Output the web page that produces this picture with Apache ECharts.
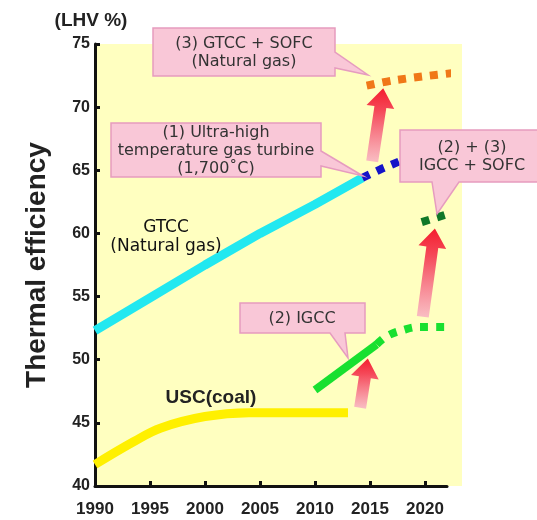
<!DOCTYPE html>
<html>
<head>
<meta charset="utf-8">
<script src="https://cdn.jsdelivr.net/npm/echarts@6/dist/echarts.min.js"></script>
<style>
  html, body { margin: 0; padding: 0; background: #fff; }
  #chart { width: 537px; height: 520px; }
</style>
</head>
<body>
<div id="chart"></div>
<script>
// axis ticks
const xTicks = [1990, 1995, 2000, 2005, 2010, 2015, 2020];
const yTicks = [40, 45, 50, 55, 60, 65, 70, 75];

// GTCC (natural gas), solid cyan
const gtccYears = [1990, 1995, 2000, 2005, 2010, 2014.3];
const gtccEff = [52.3, 54.9, 57.5, 60.0, 62.3, 64.4];
// (1) ultra-high temperature gas turbine, blue dots
const uhgtYears = [2014.3, 2016, 2018.5];
const uhgtEff = [64.4, 65.1, 66.0];
// (3) GTCC + SOFC, orange dots
const gtSofcYears = [2014.7, 2017, 2020, 2022.6];
const gtSofcEff = [71.7, 72.1, 72.45, 72.7];
// (2) IGCC, solid green then dots
const igccYears = [2010, 2015.6];
const igccEff = [47.6, 51.2];
const igccFutYears = [2015.6, 2016.5, 2018, 2019.5, 2022.6];
const igccFutEff = [51.2, 51.85, 52.35, 52.6, 52.6];
// (2) + (3) IGCC + SOFC, dark green dots
const igSofcYears = [2019.7, 2022.7];
const igSofcEff = [60.9, 61.7];
// USC (coal), yellow
const uscYears = [1990, 1993.5, 1996, 2000, 2004, 2013];
const uscEff = [41.7, 43.5, 44.6, 45.5, 45.8, 45.8];

// arrows: from -> to (data coords)
const arrowFrom = [[2015.2, 65.7], [2019.8, 53.4], [2014.1, 46.2]];
const arrowTo = [[2016.2, 71.5], [2020.9, 60.4], [2014.8, 50.1]];

const pairs = (xs, ys) => xs.map((x, i) => [x, ys[i]]);

const bg = '#FFFFC0';
const ink = '#222';

const chart = echarts.init(document.getElementById('chart'));

function lineSeries(xs, ys, color, width, dotted, smooth) {
  return {
    type: 'line',
    data: pairs(xs, ys),
    symbol: 'none',
    smooth: smooth || false,
    clip: false,
    silent: true,
    lineStyle: {
      color: color,
      width: width,
      type: dotted ? [8, 8] : 'solid',
      cap: 'butt'
    }
  };
}

chart.setOption({
  animation: false,
  grid: {
    left: 95, top: 44, width: 352, height: 442,
    show: true, backgroundColor: bg, borderWidth: 0
  },
  xAxis: {
    type: 'value',
    min: 1990, max: 2022, interval: 5,
    axisLine: { lineStyle: { color: '#111', width: 3 } },
    axisTick: { inside: true, length: 5, lineStyle: { color: '#111', width: 3 }, customValues: xTicks },
    axisLabel: {
      customValues: xTicks, margin: 15,
      formatter: v => String(v),
      color: ink, fontFamily: 'Liberation Sans', fontWeight: 'bold', fontSize: 17
    },
    splitLine: { show: false }
  },
  yAxis: {
    type: 'value',
    min: yTicks[0], max: yTicks[yTicks.length - 1], interval: 5,
    name: 'Thermal efficiency',
    nameLocation: 'middle',
    nameGap: 44,
    nameTextStyle: { color: ink, fontFamily: 'Liberation Sans', fontWeight: 'bold', fontSize: 28 },
    axisLine: { lineStyle: { color: '#111', width: 3 } },
    axisTick: { inside: true, length: 5, lineStyle: { color: '#111', width: 3 } },
    axisLabel: {
      margin: 5,
      color: ink, fontFamily: 'Liberation Sans', fontWeight: 'bold', fontSize: 16
    },
    splitLine: { show: false }
  },
  series: [
    lineSeries(uscYears, uscEff, '#FFF000', 9, false, 0.4),
    lineSeries(gtccYears, gtccEff, '#22E8F0', 9, false, false),
    lineSeries(uhgtYears, uhgtEff, '#1414C8', 8, true, false),
    lineSeries(gtSofcYears, gtSofcEff, '#F07818', 8, true, 0.3),
    lineSeries(igccYears, igccEff, '#18E030', 8, false, false),
    lineSeries(igccFutYears, igccFutEff, '#18E030', 8, true, 0.4),
    lineSeries(igSofcYears, igSofcEff, '#107828', 8, true, false)
  ]
});

// ---- annotations ----
function arrowPoints(b, t) {
  const dx = t[0] - b[0], dy = t[1] - b[1];
  const len = Math.sqrt(dx * dx + dy * dy);
  const ux = dx / len, uy = dy / len;
  const nx = -uy, ny = ux;
  const L = 19, sw = 6, hw = 14;
  const nk = [t[0] - ux * L, t[1] - uy * L];
  return [
    [b[0] + nx * sw, b[1] + ny * sw],
    [nk[0] + nx * sw, nk[1] + ny * sw],
    [nk[0] + nx * hw, nk[1] + ny * hw],
    t,
    [nk[0] - nx * hw, nk[1] - ny * hw],
    [nk[0] - nx * sw, nk[1] - ny * sw],
    [b[0] - nx * sw, b[1] - ny * sw]
  ];
}

// callout shape: rect [x0,y0,x1,y1], tail on 'right' or 'bottom'
function calloutPoints(r, side, a, b, tip) {
  const [x0, y0, x1, y1] = r;
  if (side === 'right') {
    return [[x0, y0], [x1, y0], [x1, a], tip, [x1, b], [x1, y1], [x0, y1]];
  }
  return [[x0, y0], [x1, y0], [x1, y1], [b, y1], tip, [a, y1], [x0, y1]];
}

const callouts = [
  { rect: [153, 28, 335, 76], side: 'right', a: 52, b: 68, tip: [368, 75],
    text: '(3) GTCC + SOFC\n(Natural gas)', cx: 244, cy: 53 },
  { rect: [111, 123, 321, 177], side: 'right', a: 151, b: 166, tip: [363, 176],
    text: '(1) Ultra-high\ntemperature gas turbine\n(1,700\u02daC)', cx: 216, cy: 151 },
  { rect: [400, 130, 540, 182], side: 'bottom', a: 432, b: 459, tip: [437, 214],
    text: '(2) + (3)\nIGCC + SOFC', cx: 472, cy: 157 },
  { rect: [240, 303, 365, 333], side: 'bottom', a: 330, b: 345, tip: [348, 358],
    text: '(2) IGCC', cx: 302, cy: 319 }
];

const graphics = [];
const gr = chart.getModel().getComponent('grid').coordinateSystem.getRect();
graphics.push({
  type: 'rect', z: 0, silent: true,
  shape: { x: gr.x + gr.width, y: gr.y, width: 15, height: gr.height },
  style: { fill: bg }
});

arrowFrom.forEach((f, i) => {
  const b = chart.convertToPixel({ gridIndex: 0 }, f);
  const t = chart.convertToPixel({ gridIndex: 0 }, arrowTo[i]);
  graphics.push({
    type: 'polygon', z: 50, silent: true,
    shape: { points: arrowPoints(b, t) },
    style: {
      fill: {
        type: 'linear', x: 0, y: 0, x2: 0, y2: 1,
        colorStops: [
          { offset: 0, color: '#F41E2E' },
          { offset: 0.3, color: '#F54858' },
          { offset: 1, color: 'rgba(248,178,196,0.85)' }
        ]
      }
    }
  });
});

callouts.forEach(c => {
  graphics.push({
    type: 'polygon', z: 60, silent: true,
    shape: { points: calloutPoints(c.rect, c.side, c.a, c.b, c.tip) },
    style: { fill: '#F9C7D7', stroke: '#E69CBF', lineWidth: 1.5 }
  });
  graphics.push({
    type: 'text', z: 61, silent: true,
    style: {
      text: c.text, x: c.cx, y: c.cy,
      textAlign: 'center', textVerticalAlign: 'middle',
      fontFamily: 'DejaVu Sans', fontSize: 16, lineHeight: 18, fill: '#333'
    }
  });
});

graphics.push({
  type: 'text', z: 40, silent: true,
  style: {
    text: 'GTCC\n(Natural gas)', x: 166, y: 237,
    textAlign: 'center', textVerticalAlign: 'middle',
    fontFamily: 'DejaVu Sans', fontSize: 17, lineHeight: 19, fill: '#111'
  }
});
graphics.push({
  type: 'text', z: 40, silent: true,
  style: {
    text: 'USC(coal)', x: 211, y: 398,
    textAlign: 'center', textVerticalAlign: 'middle',
    fontFamily: 'Liberation Sans', fontWeight: 'bold', fontSize: 19, fill: ink
  }
});
graphics.push({
  type: 'text', z: 40, silent: true,
  style: {
    text: '(LHV %)', x: 91, y: 21,
    textAlign: 'center', textVerticalAlign: 'middle',
    fontFamily: 'Liberation Sans', fontWeight: 'bold', fontSize: 19, fill: ink
  }
});

chart.setOption({ graphic: graphics });
</script>
</body>
</html>
